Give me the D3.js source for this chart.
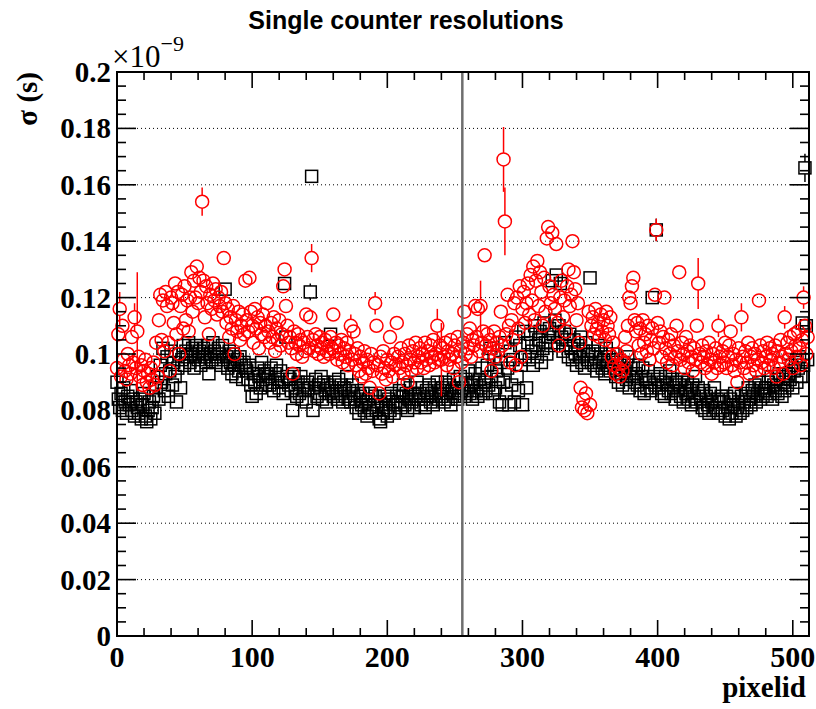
<!DOCTYPE html>
<html><head><meta charset="utf-8">
<script src="https://cdn.jsdelivr.net/npm/d3@7"></script>
<style>body{margin:0;background:#fff}svg{display:block}</style>
</head><body><svg id="c" width="816" height="709"></svg>
<script>
// sigma values in picoseconds (axis shows them in units of 1e-9 s)
const blackSigma = [
90,84,81,86,80,88,83,79,85,82,87,80,84,78,83,81,
79,84,77,82,86,78,76,80,83,77,81,85,79,88,92,84,
96,90,102,87,93,99,85,94,101,89,97,92,83,95,100,88,
98,103,96,101,99,104,97,100,102,95,99,103,98,101,96,100,
102,99,97,103,93,100,98,104,101,97,99,102,100,96,103,98,
123,99,95,101,97,93,100,96,92,98,94,99,96,91,97,95,
94,91,96,89,85,93,90,86,95,92,88,97,91,94,89,93,
92,89,95,90,87,93,96,91,88,94,90,86,125,106,92,89,
91,87,80,93,88,85,90,86,92,84,89,87,83,90,88,122,
163,80,88,91,85,89,86,92,84,90,87,83,89,86,107,88,
85,90,87,84,91,86,89,83,88,85,92,84,87,83,89,86,
84,81,87,79,85,82,86,80,83,78,84,81,86,79,82,85,
80,83,77,76,82,79,85,81,78,84,80,86,83,79,82,85,
83,87,81,85,89,82,86,80,84,88,83,86,81,85,90,84,
86,82,88,84,81,87,85,89,83,86,82,88,85,90,84,87,
85,88,83,90,86,84,89,82,87,91,85,88,84,86,92,87,
88,85,91,87,94,86,89,84,90,93,87,85,91,88,95,86,
90,87,96,89,102,92,86,99,88,94,91,83,97,82,90,104,
86,95,82,101,89,98,83,106,92,87,103,96,82,108,99,88,
104,98,107,101,96,110,103,99,105,108,97,102,111,104,100,106,
109,103,126,107,112,128,104,110,125,106,101,108,103,105,99,107,
102,98,105,100,96,103,99,106,97,101,95,104,98,100,127,97,
101,96,99,94,103,97,100,95,98,93,102,96,99,94,97,100,
95,92,98,90,96,93,89,97,94,91,99,88,95,92,96,90,
93,89,96,87,92,95,86,91,88,94,90,87,120,92,89,144,
91,88,93,86,90,85,92,89,87,94,86,91,88,84,90,87,
89,85,91,83,88,86,90,84,87,82,89,85,92,83,88,86,
84,81,87,80,85,82,79,86,83,80,88,81,84,79,83,85,
80,83,78,85,81,77,84,79,82,86,78,81,83,79,85,80,
83,86,81,88,84,82,87,85,89,83,86,90,84,88,85,87,
88,85,90,86,92,84,89,87,91,86,93,88,85,90,87,92,
89,93,91,96,88,94,97,90,95,99,92,111,96,166,110,98];
const redSigma = [
95,107,116,92,110,98,94,91,100,96,93,106,97,113,95,108,
99,92,96,89,94,98,90,93,88,95,91,97,89,104,92,112,
121,105,119,101,122,117,104,94,120,118,111,125,107,122,100,117,
121,109,124,112,119,108,120,129,115,126,120,131,118,127,122,154,
126,113,124,118,107,121,116,125,119,123,114,120,117,122,115,134,
118,111,116,106,113,109,117,100,112,108,115,105,110,114,107,126,
112,108,127,115,110,104,116,109,113,102,111,107,114,106,110,118,
108,104,111,106,113,101,109,105,112,103,107,124,130,117,110,104,
106,102,93,108,104,100,107,103,105,99,104,101,114,106,102,113,
134,105,101,107,103,100,106,102,104,99,105,101,103,100,106,102,
114,101,104,98,103,100,105,97,102,99,104,96,101,110,98,108,
100,96,102,94,99,92,97,101,93,98,95,88,100,94,97,118,
110,96,86,99,93,101,95,91,98,94,106,97,92,100,96,111,
99,95,102,97,93,100,96,90,103,98,94,101,97,104,95,99,
102,97,100,95,104,98,101,96,103,99,105,97,100,110,98,103,
98,102,99,104,96,101,98,105,100,95,103,99,106,90,101,97,
104,115,100,107,102,109,99,105,103,117,106,116,101,117,104,108,
135,103,107,100,105,94,102,108,99,104,101,106,115,103,169,147,
107,121,110,97,112,105,118,96,120,109,124,99,116,122,111,118,
125,114,128,119,131,112,126,133,117,129,122,110,127,115,141,145,
124,118,143,121,116,139,111,103,120,126,113,119,108,124,130,117,
121,140,129,123,112,118,104,88,81,84,80,86,79,115,82,110,
113,107,116,109,111,106,114,108,112,105,115,110,107,113,99,104,
96,93,100,95,92,98,94,97,106,101,110,120,118,124,127,112,
108,111,103,109,100,112,104,107,101,110,98,105,109,102,121,144,
111,104,108,99,106,120,102,97,105,100,107,96,103,99,110,101,
129,98,104,100,95,106,101,97,103,99,94,102,98,110,125,100,
97,103,99,95,101,96,104,98,93,100,97,102,95,110,99,96,
101,97,104,95,99,103,108,96,100,94,98,90,102,97,113,99,
95,101,97,104,93,99,102,96,100,94,98,119,103,97,101,95,
99,104,96,102,98,100,95,103,92,101,97,105,99,93,113,100,
104,98,106,101,95,107,103,99,108,102,96,105,120,110,100,106];
const redErrIds = [2,13,15,63,144,173,191,237,240,269,286,287,399,430,445,462,494,508];
const redErr    = [6,5,21,5,5,4,4,6,13,9,11.5,12,4,9,4,5,4,4];
const blackErrIds = [143,144,399,509];
const blackErr    = [3,2,4,5];
const xTicks = [0,100,200,300,400,500];
const xTickLabels = ["0","100","200","300","400","500"];
const yTicks = [0,20,40,60,80,100,120,140,160,180,200];
const yTickLabels = ["0","0.02","0.04","0.06","0.08","0.1","0.12","0.14","0.16","0.18","0.2"];
const markerLinePid = 255.5;

const svg = d3.select("#c");
const L=117, R=809, T=72, B=636;
const x = d3.scaleLinear().domain([0,512]).range([L,R]);
const y = d3.scaleLinear().domain([0,200]).range([B,T]);

// grid
svg.append("g").selectAll("line").data(yTicks.slice(1,-1)).join("line")
  .attr("x1",L).attr("x2",R).attr("y1",d=>y(d)).attr("y2",d=>y(d))
  .attr("stroke","#000").attr("stroke-width",1).attr("stroke-dasharray","1,3");

function drawSeries(vals, errIds, errs, color, shape){
  const g = svg.append("g");
  const r = shape==="circle"?6.5:6;
  const pts = vals.map((v,i)=>({i,v,e:0}));
  errIds.forEach((id,k)=>{pts[id].e=errs[k];});
  pts.filter(p=>p.e>0).forEach(p=>{
    const yc=y(p.v), yt=y(p.v+p.e), yb=y(p.v-p.e), xc=x(p.i);
    if(yc-r>yt) g.append("line").attr("x1",xc).attr("x2",xc).attr("y1",yt).attr("y2",yc-r).attr("stroke",color).attr("stroke-width",1.5);
    if(yb>yc+r) g.append("line").attr("x1",xc).attr("x2",xc).attr("y1",yc+r).attr("y2",yb).attr("stroke",color).attr("stroke-width",1.5);
  });
  if(shape==="circle"){
    g.selectAll("circle").data(pts).join("circle")
      .attr("cx",d=>x(d.i)).attr("cy",d=>y(d.v)).attr("r",r)
      .attr("fill","none").attr("stroke",color).attr("stroke-width",1.5);
  } else {
    g.selectAll("rect").data(pts).join("rect")
      .attr("x",d=>x(d.i)-r).attr("y",d=>y(d.v)-r).attr("width",2*r).attr("height",2*r)
      .attr("fill","none").attr("stroke",color).attr("stroke-width",1.5);
  }
}
drawSeries(blackSigma, blackErrIds, blackErr, "#000", "square");
drawSeries(redSigma, redErrIds, redErr, "#ff0000", "circle");

// vertical marker line
svg.append("line").attr("x1",x(markerLinePid)).attr("x2",x(markerLinePid)).attr("y1",T).attr("y2",B)
  .attr("stroke","#6e6e6e").attr("stroke-width",2.5);

// frame
svg.append("rect").attr("x",L).attr("y",T).attr("width",R-L).attr("height",B-T)
  .attr("fill","none").attr("stroke","#000").attr("stroke-width",2);

// ticks
const tg = svg.append("g").attr("stroke","#000").attr("stroke-width",1.6);
d3.range(0,513,20).forEach(v=>{
  const major = v%100===0, len = major?16:8;
  tg.append("line").attr("x1",x(v)).attr("x2",x(v)).attr("y1",B).attr("y2",B-len);
  tg.append("line").attr("x1",x(v)).attr("x2",x(v)).attr("y1",T).attr("y2",T+len);
});
d3.range(0,201,5).forEach(v=>{
  const major = v%20===0, len = major?19:9;
  tg.append("line").attr("x1",L).attr("x2",L+len).attr("y1",y(v)).attr("y2",y(v));
  tg.append("line").attr("x1",R).attr("x2",R-len).attr("y1",y(v)).attr("y2",y(v));
});

const serif = "'Liberation Serif','DejaVu Serif',serif";
svg.append("g").selectAll("text").data(xTicks).join("text")
  .attr("x",d=>x(d)).attr("y",667).attr("text-anchor","middle")
  .attr("font-family",serif).attr("font-weight","bold").attr("font-size",30)
  .text((d,i)=>xTickLabels[i]);
svg.append("g").selectAll("text").data(yTicks).join("text")
  .attr("x",111).attr("y",d=>y(d)+10).attr("text-anchor","end")
  .attr("font-family",serif).attr("font-weight","bold").attr("font-size",29)
  .text((d,i)=>yTickLabels[i]);

// exponent
const ex = svg.append("text").attr("x",112).attr("y",67).attr("font-family",serif).attr("font-size",31);
ex.append("tspan").text("×10");
ex.append("tspan").attr("dy",-16).attr("font-size",22).text("−9");

// axis titles
svg.append("text").attr("x",806).attr("y",697).attr("text-anchor","end")
  .attr("font-family",serif).attr("font-weight","bold").attr("font-size",29).text("pixelid");
svg.append("text").attr("transform","translate(37,72) rotate(-90)").attr("text-anchor","end")
  .attr("font-family",serif).attr("font-weight","bold").attr("font-size",29).text("σ (s)");

// title
svg.append("text").attr("x",406).attr("y",29).attr("text-anchor","middle")
  .attr("font-family","'Liberation Sans',Arial,sans-serif").attr("font-weight","bold").attr("font-size",25)
  .text("Single counter resolutions");
</script></body></html>
